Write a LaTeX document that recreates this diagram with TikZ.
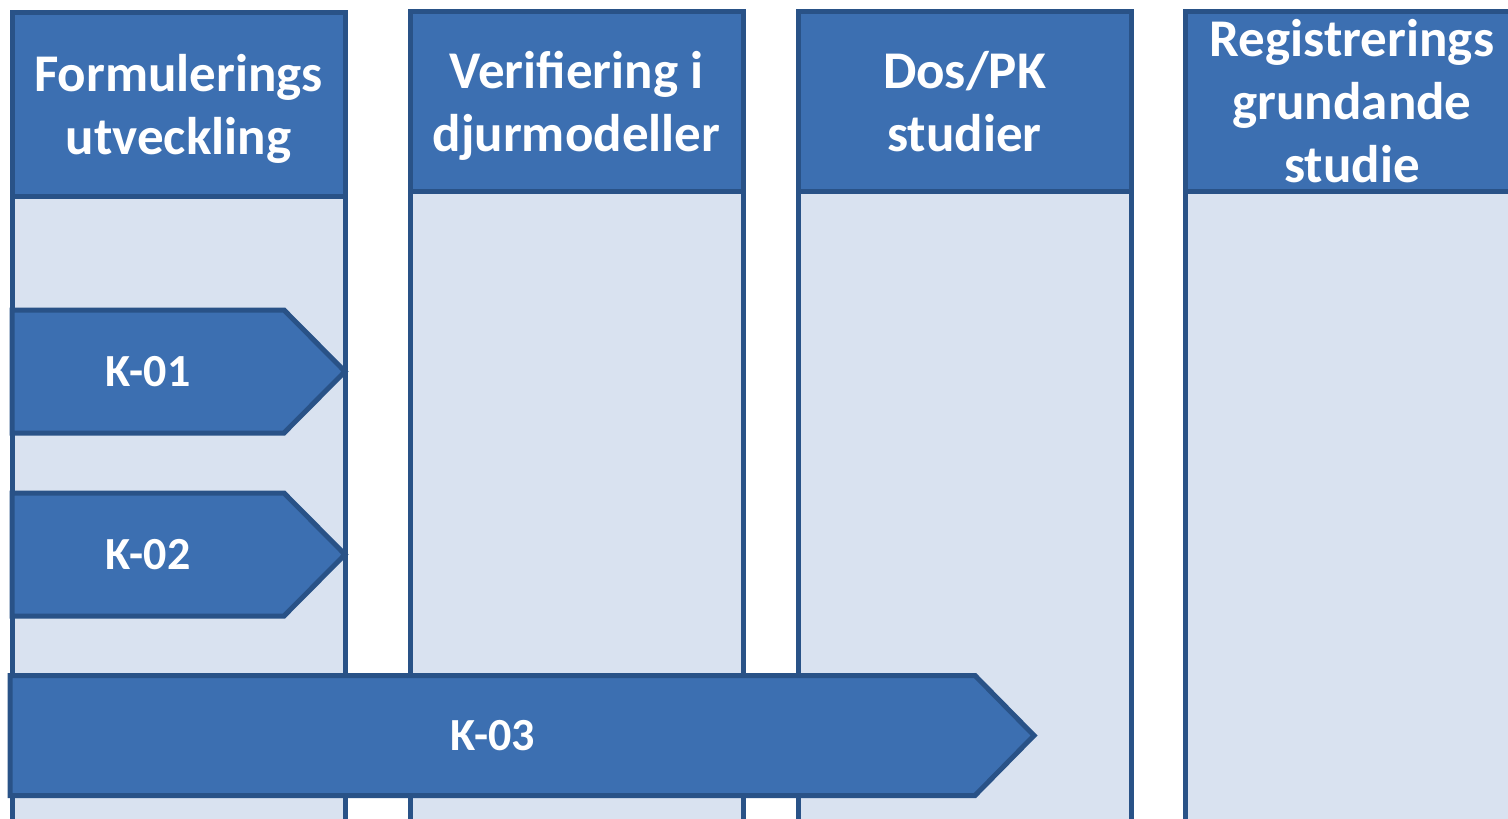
\documentclass[tikz,border=0pt]{standalone}
\usepackage{fontspec}
\setmainfont{Carlito}
\definecolor{headblue}{RGB}{60,111,177}
\definecolor{edgeblue}{RGB}{41,82,135}
\definecolor{paleblue}{RGB}{217,226,240}

\begin{document}
\begin{tikzpicture}[x=1pt,y=-1pt,
  lane/.style={draw=edgeblue,fill=paleblue,line width=5,minimum width=333,minimum height=818,inner sep=0},
  head/.style={draw=edgeblue,fill=headblue,line width=5,minimum width=333,inner sep=0,text depth=0pt,
    text=white,align=center,font=\bfseries\fontsize{53}{63}\selectfont},
  tag/.style={draw=edgeblue,fill=headblue,line width=5,line join=miter},
  tagtext/.style={text=white,inner sep=0,font=\bfseries\fontsize{46}{55}\selectfont}]
  \useasboundingbox (0,0) rectangle (1508,819);
  \clip (0,0) rectangle (1508,819);

  % lanes
  \node[lane] (lane1) at (178.5,421) {};
  \node[lane] (lane2) at (576.5,421) {};
  \node[lane] (lane3) at (964.5,421) {};
  \node[lane] (lane4) at (1352,421) {};

  % headers
  \node[head,minimum height=184] (head1) at (178.5,104) {Formulerings\\utveckling};
  \node[head,minimum height=180] (head2) at (576.5,101) {Verifiering i\\djurmodeller};
  \node[head,minimum height=180] (head3) at (964.5,101) {Dos/PK\\studier};
  \node[head,minimum height=180] (head4) at (1352,101) {Registrerings\\grundande\\studie};

  % process tags
  \draw[tag] (12,310) -- (284,310) -- (345,371.5) -- (284,433) -- (12,433) -- cycle;
  \node[tagtext] (k01) at (148,371.5) {K-01};
  \draw[tag] (12,493) -- (284,493) -- (345,554.5) -- (284,616) -- (12,616) -- cycle;
  \node[tagtext] (k02) at (148,554.5) {K-02};
  \draw[tag] (10,675.5) -- (975,675.5) -- (1034,735.5) -- (975,795.5) -- (10,795.5) -- cycle;
  \node[tagtext] (k03) at (492.5,735.5) {K-03};
\end{tikzpicture}
\end{document}
